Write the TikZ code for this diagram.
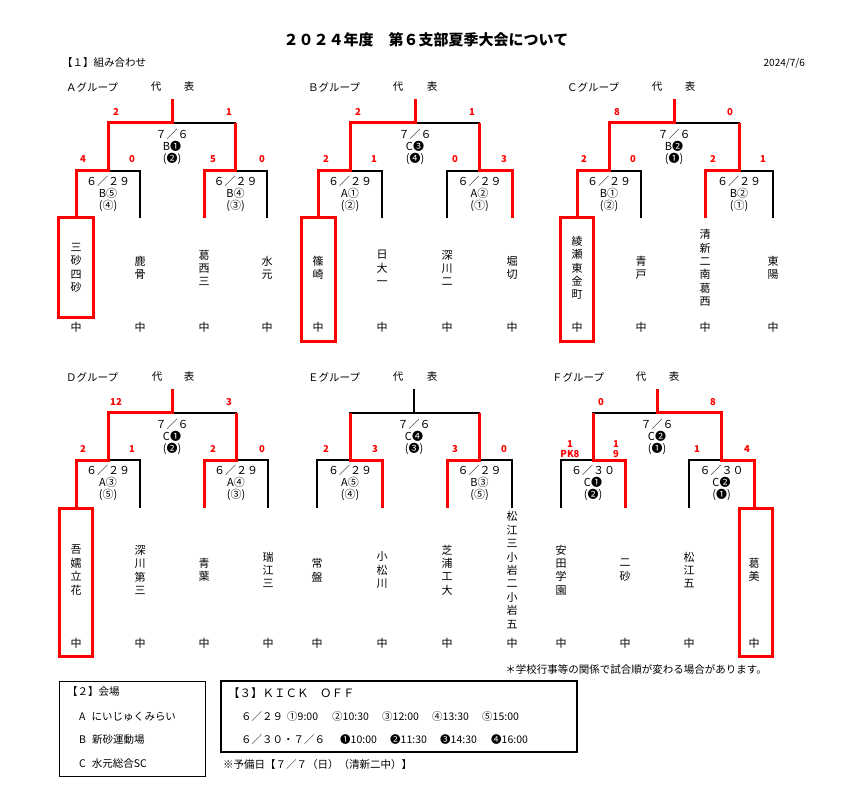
\documentclass[tikz,border=0pt]{standalone}
\usepackage{fontspec}
\setmainfont{Noto Sans CJK JP}
\tikzset{
  blk/.style={draw=black, line width=1.1pt},
  win/.style={draw=red, line width=3pt},
  sc/.style={text=red, inner sep=0pt, font=\fontsize{9.5}{10}\selectfont\bfseries, align=center},
  mt/.style={align=center, font=\fontsize{11}{12}\selectfont},
  tm/.style={align=center, font=\fontsize{11}{13.4}\selectfont},
  hd/.style={inner sep=0pt, font=\fontsize{10.5}{12}\selectfont},
  tx/.style={inner sep=0pt, anchor=west, font=\fontsize{10.5}{12}\selectfont},
}
\begin{document}
\begin{tikzpicture}[x=1pt,y=-1pt]
	\useasboundingbox (0,0) rectangle (844,802);
	
	\node[font=\fontsize{15}{18}\selectfont\bfseries] (title) at (426,40) {２０２４年度　第６支部夏季大会について};
	\node[hd, anchor=west] (sec1) at (62,63) {【１】組み合わせ};
	\node[hd, anchor=east, font=\fontsize{10}{12}\selectfont] (day) at (805,63) {2024/7/6};
	
	% A group
	\node[hd, anchor=west] (hA) at (66,87) {Ａグループ};
	\node[hd] (dA) at (156,87) {代};
	\node[hd] (rA) at (189,87) {表};
	\draw[blk] (76,218) |- (140,171) -- (140,218);
	\draw[blk] (204,218) |- (267,171) -- (267,218);
	\draw[blk] (108,171) |- (235.5,123) -- (235.5,171);
	\draw[blk] (172,123) -- (172,99);
	\draw[win] (76,218) |- (108,171) |- (172,123) -- (172,99);
	\draw[win] (204,218) |- (235.5,171) -- (235.5,123);
	\node[mt] (fA) at (172,147) {７／６\\B❶\\(❷)};
	\node[mt] (qA1) at (108,194) {６／２９\\B⑤\\(④)};
	\node[mt] (qA2) at (235.5,194) {６／２９\\B④\\(③)};
	\node[sc] (sA1) at (116,112) {2};
	\node[sc] (sA2) at (229,112) {1};
	\node[sc] (sA3) at (83,159) {4};
	\node[sc] (sA4) at (132,159) {0};
	\node[sc] (sA5) at (213,159) {5};
	\node[sc] (sA6) at (262,159) {0};
	\node[tm] (tA1) at (76,268) {三\\砂\\四\\砂};
	\node[tm] (tA2) at (140,268) {鹿\\骨};
	\node[tm] (tA3) at (204,268) {葛\\西\\三};
	\node[tm] (tA4) at (267,268) {水\\元};
	\draw[win] (58,218) rectangle (93,318);
	
	% B group
	\node[hd, anchor=west] (hB) at (308,87) {Ｂグループ};
	\node[hd] (dB) at (398,87) {代};
	\node[hd] (rB) at (432,87) {表};
	\draw[blk] (318,218) |- (382,171) -- (382,218);
	\draw[blk] (447,218) |- (512,171) -- (512,218);
	\draw[blk] (350,171) |- (479.5,123) -- (479.5,171);
	\draw[blk] (415,123) -- (415,99);
	\draw[win] (318,218) |- (350,171) |- (415,123) -- (415,99);
	\draw[win] (512,218) |- (479.5,171) -- (479.5,123);
	\node[mt] (fB) at (415,147) {７／６\\C❸\\(❹)};
	\node[mt] (qB1) at (350,194) {６／２９\\A①\\(②)};
	\node[mt] (qB2) at (479.5,194) {６／２９\\A②\\(①)};
	\node[sc] (sB1) at (358,112) {2};
	\node[sc] (sB2) at (472,112) {1};
	\node[sc] (sB3) at (326,159) {2};
	\node[sc] (sB4) at (374,159) {1};
	\node[sc] (sB5) at (455,159) {0};
	\node[sc] (sB6) at (504,159) {3};
	\node[tm] (tB1) at (318,268) {篠\\崎};
	\node[tm] (tB2) at (382,268) {日\\大\\一};
	\node[tm] (tB3) at (447,268) {深\\川\\二};
	\node[tm] (tB4) at (512,268) {堀\\切};
	\draw[win] (301,218) rectangle (335,342);
	
	% C group
	\node[hd, anchor=west] (hC) at (567,87) {Ｃグループ};
	\node[hd] (dC) at (657,87) {代};
	\node[hd] (rC) at (690,87) {表};
	\draw[blk] (577,218) |- (641,171) -- (641,218);
	\draw[blk] (705,218) |- (773,171) -- (773,218);
	\draw[blk] (609,171) |- (739,123) -- (739,171);
	\draw[blk] (674,123) -- (674,99);
	\draw[win] (577,218) |- (609,171) |- (674,123) -- (674,99);
	\draw[win] (705,218) |- (739,171) -- (739,123);
	\node[mt] (fC) at (674,147) {７／６\\B❷\\(❶)};
	\node[mt] (qC1) at (609,194) {６／２９\\B①\\(②)};
	\node[mt] (qC2) at (739,194) {６／２９\\B②\\(①)};
	\node[sc] (sC1) at (617,112) {8};
	\node[sc] (sC2) at (730,112) {0};
	\node[sc] (sC3) at (584,159) {2};
	\node[sc] (sC4) at (633,159) {0};
	\node[sc] (sC5) at (713,159) {2};
	\node[sc] (sC6) at (763,159) {1};
	\node[tm] (tC1) at (577,268) {綾\\瀬\\東\\金\\町};
	\node[tm] (tC2) at (641,268) {青\\戸};
	\node[tm] (tC3) at (705,268) {清\\新\\二\\南\\葛\\西};
	\node[tm] (tC4) at (773,268) {東\\陽};
	\draw[win] (560,218) rectangle (593,342);
	
	% D group
	\node[hd, anchor=west] (hD) at (66,377) {Ｄグループ};
	\node[hd] (dD) at (157,377) {代};
	\node[hd] (rD) at (189,377) {表};
	\draw[blk] (76,508) |- (140,460) -- (140,508);
	\draw[blk] (204,508) |- (268,460) -- (268,508);
	\draw[blk] (108,460) |- (236,413) -- (236,460);
	\draw[blk] (172,413) -- (172,389);
	\draw[win] (76,508) |- (108,460) |- (172,413) -- (172,389);
	\draw[win] (204,508) |- (236,460) -- (236,413);
	\node[mt] (fD) at (172,437) {７／６\\C❶\\(❷)};
	\node[mt] (qD1) at (108,483) {６／２９\\A③\\(⑤)};
	\node[mt] (qD2) at (236,483) {６／２９\\A④\\(③)};
	\node[sc] (sD1) at (116,402) {12};
	\node[sc] (sD2) at (229,402) {3};
	\node[sc] (sD3) at (83,449) {2};
	\node[sc] (sD4) at (132,449) {1};
	\node[sc] (sD5) at (213,449) {2};
	\node[sc] (sD6) at (262,449) {0};
	\node[tm] (tD1) at (76,570) {吾\\嬬\\立\\花};
	\node[tm] (tD2) at (140,570) {深\\川\\第\\三};
	\node[tm] (tD3) at (204,570) {青\\葉};
	\node[tm] (tD4) at (268,570) {瑞\\江\\三};
	\draw[win] (59,508) rectangle (92,656);
	
	% E group
	\node[hd, anchor=west] (hE) at (308,377) {Ｅグループ};
	\node[hd] (dE) at (398,377) {代};
	\node[hd] (rE) at (432,377) {表};
	\draw[blk] (317,508) |- (382,460) -- (382,508);
	\draw[blk] (447,508) |- (512,460) -- (512,508);
	\draw[blk] (350,460) |- (479.5,413) -- (479.5,460);
	\draw[blk] (414,413) -- (414,389);
	\draw[win] (382,508) |- (350,460) -- (350,413);
	\draw[win] (447,508) |- (479.5,460) -- (479.5,413);
	\node[mt] (fE) at (414,437) {７／６\\C❹\\(❸)};
	\node[mt] (qE1) at (350,483) {６／２９\\A⑤\\(④)};
	\node[mt] (qE2) at (479.5,483) {６／２９\\B③\\(⑤)};
	\node[sc] (sE3) at (326,449) {2};
	\node[sc] (sE4) at (375,449) {3};
	\node[sc] (sE5) at (455,449) {3};
	\node[sc] (sE6) at (504,449) {0};
	\node[tm] (tE1) at (317,570) {常\\盤};
	\node[tm] (tE2) at (382,570) {小\\松\\川};
	\node[tm] (tE3) at (447,570) {芝\\浦\\工\\大};
	\node[tm] (tE4) at (512,570) {松\\江\\三\\小\\岩\\二\\小\\岩\\五};
	
	% F group
	\node[hd, anchor=west] (hF) at (552,377) {Ｆグループ};
	\node[hd] (dF) at (641,377) {代};
	\node[hd] (rF) at (674,377) {表};
	\draw[blk] (561,508) |- (625,460) -- (625,508);
	\draw[blk] (689,508) |- (754,460) -- (754,508);
	\draw[blk] (593,460) |- (721.5,413) -- (721.5,460);
	\draw[blk] (657,413) -- (657,389);
	\draw[win] (625,508) |- (593,460) -- (593,413);
	\draw[win] (754,508) |- (721.5,460) |- (657,413) -- (657,389);
	\node[mt] (fF) at (657,437) {７／６\\C❷\\(❶)};
	\node[mt] (qF1) at (593,483) {６／３０\\C❶\\(❷)};
	\node[mt] (qF2) at (721.5,483) {６／３０\\C❷\\(❶)};
	\node[sc] (sF1) at (601,402) {0};
	\node[sc] (sF2) at (713,402) {8};
	\node[sc] (sF3) at (570,449) {1\\PK8};
	\node[sc] (sF4) at (616,449) {1\\9};
	\node[sc] (sF5) at (697,449) {1};
	\node[sc] (sF6) at (747,449) {4};
	\node[tm] (tF1) at (561,570) {安\\田\\学\\園};
	\node[tm] (tF2) at (625,570) {二\\砂};
	\node[tm] (tF3) at (689,570) {松\\江\\五};
	\node[tm] (tF4) at (754,570) {葛\\美};
	\draw[win] (739,508) rectangle (772,656);
	
	% 中
	\node[tm] (cA1) at (76,327) {中};
	\node[tm] (cA2) at (140,327) {中};
	\node[tm] (cA3) at (204,327) {中};
	\node[tm] (cA4) at (267,327) {中};
	\node[tm] (cB1) at (318,327) {中};
	\node[tm] (cB2) at (382,327) {中};
	\node[tm] (cB3) at (447,327) {中};
	\node[tm] (cB4) at (512,327) {中};
	\node[tm] (cC1) at (577,327) {中};
	\node[tm] (cC2) at (641,327) {中};
	\node[tm] (cC3) at (705,327) {中};
	\node[tm] (cC4) at (773,327) {中};
	\node[tm] (cD1) at (76,643) {中};
	\node[tm] (cD2) at (140,643) {中};
	\node[tm] (cD3) at (204,643) {中};
	\node[tm] (cD4) at (268,643) {中};
	\node[tm] (cE1) at (317,643) {中};
	\node[tm] (cE2) at (382,643) {中};
	\node[tm] (cE3) at (447,643) {中};
	\node[tm] (cE4) at (512,643) {中};
	\node[tm] (cF1) at (561,643) {中};
	\node[tm] (cF2) at (625,643) {中};
	\node[tm] (cF3) at (689,643) {中};
	\node[tm] (cF4) at (754,643) {中};
	
	\node[hd, anchor=east] (note) at (767,669) {＊学校行事等の関係で試合順が変わる場合があります。};
	
	% venues
	\draw[line width=1pt] (59,681) rectangle (205,776);
	\node[tx] (v0) at (67,692) {【２】会場};
	\node[tx] (v1) at (79,717) {A\hspace{6pt}にいじゅくみらい};
	\node[tx] (v2) at (79,740) {B\hspace{6pt}新砂運動場};
	\node[tx] (v3) at (79,764) {C\hspace{6pt}水元総合SC};
	
	% kick off
	\draw[line width=2pt] (221,681) rectangle (577,752);
	\node[tx, font=\fontsize{11.5}{12}\selectfont] (k0) at (228,693) {【３】ＫＩＣＫ　ＯＦＦ};
	\node[tx] (k1) at (241,717) {６／２９};
	\node[tx] (k11) at (287,717) {①9:00};
	\node[tx] (k12) at (332,717) {②10:30};
	\node[tx] (k13) at (382,717) {③12:00};
	\node[tx] (k14) at (432,717) {④13:30};
	\node[tx] (k15) at (482,717) {⑤15:00};
	\node[tx] (k2) at (241,740) {６／３０・７／６};
	\node[tx] (k21) at (340,740) {❶10:00};
	\node[tx] (k22) at (390,740) {❷11:30};
	\node[tx] (k23) at (440,740) {❸14:30};
	\node[tx] (k24) at (491,740) {❹16:00};
	\node[tx] (spare) at (223,765) {※予備日【７／７（日）（清新二中）】};
\end{tikzpicture}
\end{document}
